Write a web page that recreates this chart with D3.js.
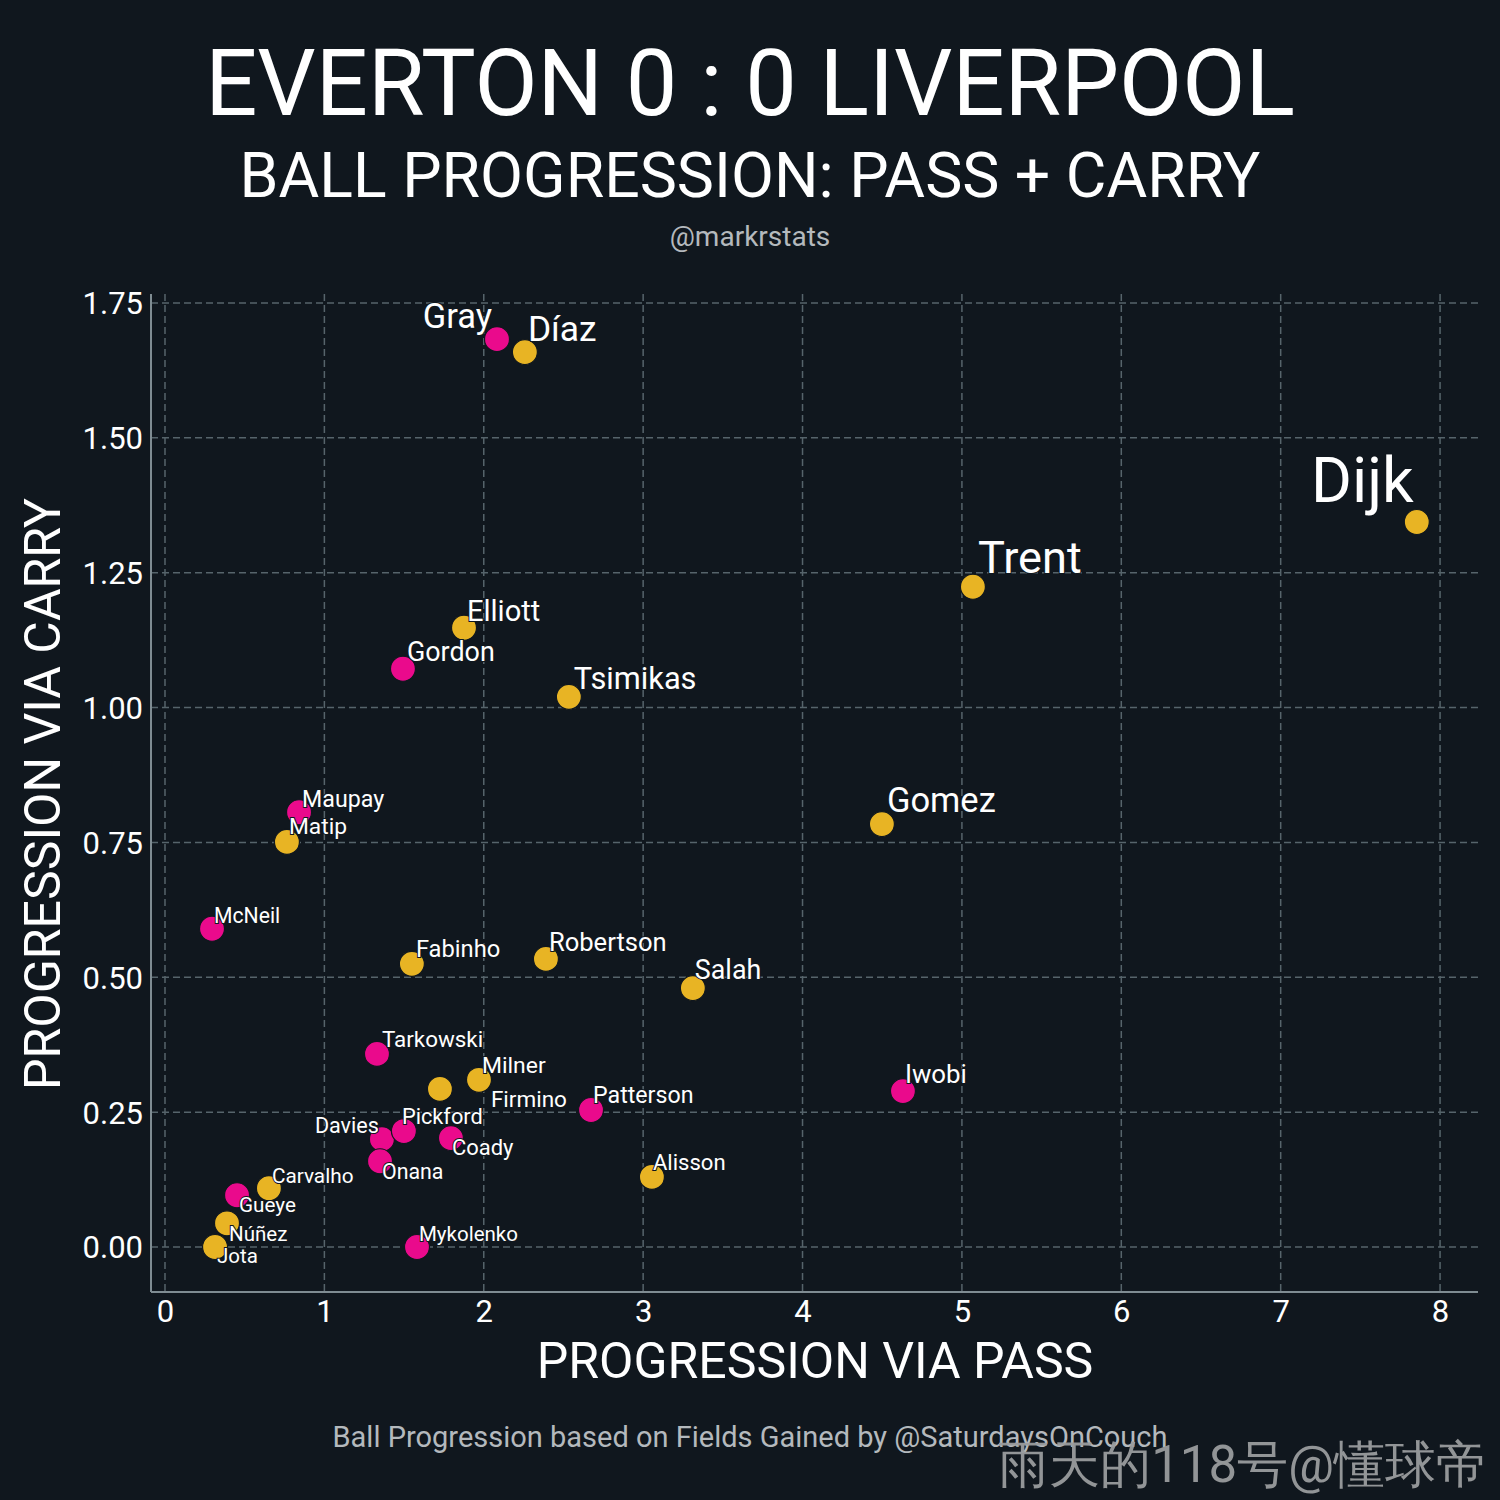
<!DOCTYPE html>
<html>
<head>
<meta charset="utf-8">
<script src="https://cdn.jsdelivr.net/npm/d3@7"></script>
<style>
  html, body { margin: 0; padding: 0; background: #10171e; }
  svg { display: block; }
  text { font-family: Roboto, "Noto Sans", sans-serif; }
</style>
</head>
<body>
<script>
// ---------------- DATA ----------------
const players = ["Gray","Díaz","Dijk","Trent","Elliott","Gordon","Tsimikas","Maupay","Matip","Gomez",
  "McNeil","Fabinho","Robertson","Salah","Tarkowski","Milner","Firmino","Patterson","Iwobi","Davies",
  "Pickford","Coady","Onana","Alisson","Carvalho","Gueye","Núñez","Jota","Mykolenko"];
const teams = ["Everton","Liverpool","Liverpool","Liverpool","Liverpool","Everton","Liverpool","Everton","Liverpool","Liverpool",
  "Everton","Liverpool","Liverpool","Liverpool","Everton","Liverpool","Liverpool","Everton","Everton","Everton",
  "Everton","Everton","Everton","Liverpool","Liverpool","Everton","Liverpool","Liverpool","Everton"];
const passProgression = [2.083,2.258,7.854,5.069,1.876,1.493,2.534,0.841,0.765,4.498,
  0.295,1.549,2.390,3.312,1.330,1.970,1.725,2.673,4.630,1.361,
  1.499,1.794,1.349,3.055,0.652,0.452,0.389,0.314,1.581];
const carryProgression = [1.683,1.659,1.344,1.224,1.148,1.072,1.020,0.806,0.751,0.784,
  0.590,0.525,0.534,0.480,0.358,0.310,0.293,0.254,0.289,0.200,
  0.215,0.202,0.159,0.130,0.109,0.096,0.044,0.000,0.000];
const xTicks = [0,1,2,3,4,5,6,7,8];
const yTicks = [0,0.25,0.5,0.75,1.0,1.25,1.5,1.75];

const titleText = "EVERTON 0 : 0 LIVERPOOL";
const subtitleText = "BALL PROGRESSION: PASS + CARRY";
const creditText = "@markrstats";
const xLabel = "PROGRESSION VIA PASS";
const yLabel = "PROGRESSION VIA CARRY";
const footerText = "Ball Progression based on Fields Gained by @SaturdaysOnCouch";
const watermarkText = "雨天的118号@懂球帝";

// ---------------- LAYOUT / STYLE ----------------
const W = 1500, H = 1500;
const BG = "#10171e";
const teamColor = { Everton: "#ea0a8c", Liverpool: "#e8b424" };
// label placement nudges (pixels from point centre) and anchors, mimicking the reference's text repel
const labelNudge = {
  "Gray":[-5,-11,"end"], "Díaz":[3,-11,"start"], "Dijk":[-3,-20,"end"], "Trent":[5,-14,"start"],
  "Elliott":[3,-7,"start"], "Gordon":[4,-8,"start"], "Tsimikas":[5,-8,"start"], "Maupay":[3,-5,"start"],
  "Matip":[2,-8,"start"], "Gomez":[5,-12,"start"], "McNeil":[2,-6,"start"], "Fabinho":[4,-7,"start"],
  "Robertson":[3,-8,"start"], "Salah":[2,-9,"start"], "Tarkowski":[5,-7,"start"], "Milner":[3,-7,"start"],
  "Firmino":[51,18,"start"], "Patterson":[2,-7,"start"], "Iwobi":[2,-8,"start"], "Davies":[-3,-6,"end"],
  "Pickford":[-2,-7,"start"], "Coady":[1,17,"start"], "Onana":[2,18,"start"], "Alisson":[1,-7,"start"],
  "Carvalho":[3,-5,"start"], "Gueye":[2,17,"start"], "Núñez":[2,18,"start"], "Jota":[2,16,"start"],
  "Mykolenko":[2,-6,"start"]
};

const data = players.map((name, i) => ({
  name, team: teams[i], pass: passProgression[i], carry: carryProgression[i]
}));

const svg = d3.select("body").append("svg").attr("width", W).attr("height", H);
svg.append("rect").attr("width", W).attr("height", H).attr("fill", BG);

const plot = { left: 151, right: 1478, top: 294, bottom: 1292 };
const x = d3.scaleLinear().domain([-0.0878, 8.238]).range([plot.left, plot.right]);
const y = d3.scaleLinear().domain([-0.0834, 1.7667]).range([plot.bottom, plot.top]);
// label size grows with pass x carry product
const fontScale = d3.scaleLinear().domain([0, 10.56]).range([20.5, 62.5]);

// grid
const gridG = svg.append("g");
gridG.selectAll("line.h").data(yTicks).join("line")
  .attr("x1", plot.left).attr("x2", plot.right)
  .attr("y1", d => y(d)).attr("y2", d => y(d))
  .attr("stroke", "#56646b").attr("stroke-width", 1.5).attr("stroke-dasharray", "7,4");
gridG.selectAll("line.v").data(xTicks).join("line")
  .attr("x1", d => x(d)).attr("x2", d => x(d))
  .attr("y1", plot.top).attr("y2", plot.bottom)
  .attr("stroke", "#56646b").attr("stroke-width", 1.5).attr("stroke-dasharray", "7,4");

// axes via d3
const xAxis = d3.axisBottom(x).tickValues(xTicks).tickFormat(d3.format("d")).tickSize(0).tickPadding(8);
const yAxis = d3.axisLeft(y).tickValues(yTicks).tickFormat(d3.format(".2f")).tickSize(0).tickPadding(8);

const gx = svg.append("g").attr("transform", `translate(0,${plot.bottom})`).call(xAxis);
const gy = svg.append("g").attr("transform", `translate(${plot.left},0)`).call(yAxis);
[gx, gy].forEach(g => {
  g.select(".domain").remove();
  g.selectAll("text").attr("fill", "#ffffff").attr("font-size", 31)
    .attr("font-family", "Roboto, sans-serif");
});
gy.selectAll("text").attr("dy", "0.35em");
gx.selectAll("text").attr("dy", "0.72em");

// spines
svg.append("line").attr("x1", plot.left).attr("x2", plot.left).attr("y1", plot.top).attr("y2", plot.bottom)
  .attr("stroke", "#7f8c92").attr("stroke-width", 2);
svg.append("line").attr("x1", plot.left).attr("x2", plot.right).attr("y1", plot.bottom).attr("y2", plot.bottom)
  .attr("stroke", "#7f8c92").attr("stroke-width", 2);

// points
svg.append("g").selectAll("circle").data(data).join("circle")
  .attr("cx", d => x(d.pass)).attr("cy", d => y(d.carry)).attr("r", 12.5)
  .attr("fill", d => teamColor[d.team]).attr("stroke", BG).attr("stroke-width", 1.2);

// labels
svg.append("g").selectAll("text").data(data).join("text")
  .attr("x", d => x(d.pass) + labelNudge[d.name][0])
  .attr("y", d => y(d.carry) + labelNudge[d.name][1])
  .attr("text-anchor", d => labelNudge[d.name][2])
  .attr("font-size", d => fontScale(d.pass * d.carry))
  .attr("fill", "#ffffff")
  .attr("stroke", BG).attr("stroke-width", 2).attr("paint-order", "stroke")
  .text(d => d.name);

// titles
svg.append("text").attr("x", 750).attr("y", 115).attr("text-anchor", "middle")
  .attr("font-size", 91.8).attr("fill", "#ffffff").text(titleText);
svg.append("text").attr("x", 750).attr("y", 197).attr("text-anchor", "middle")
  .attr("font-size", 62.5).attr("fill", "#ffffff").text(subtitleText);
svg.append("text").attr("x", 750).attr("y", 246).attr("text-anchor", "middle")
  .attr("font-size", 28).attr("fill", "#b4b9bd").text(creditText);

// axis titles
svg.append("text").attr("x", 815).attr("y", 1378).attr("text-anchor", "middle")
  .attr("font-size", 50).attr("fill", "#ffffff").text(xLabel);
svg.append("text").attr("transform", "translate(60,794) rotate(-90)").attr("text-anchor", "middle")
  .attr("font-size", 50).attr("fill", "#ffffff").text(yLabel);

// footer
svg.append("text").attr("x", 750).attr("y", 1447).attr("text-anchor", "middle")
  .attr("font-size", 29).attr("fill", "#b4b9bd").text(footerText);
svg.append("text").attr("x", 1487).attr("y", 1482).attr("text-anchor", "end")
  .attr("font-family", "'Noto Sans CJK SC', sans-serif")
  .attr("font-size", 51).attr("fill", "#9a9c9e").attr("opacity", 0.95).text(watermarkText);
</script>
</body>
</html>
